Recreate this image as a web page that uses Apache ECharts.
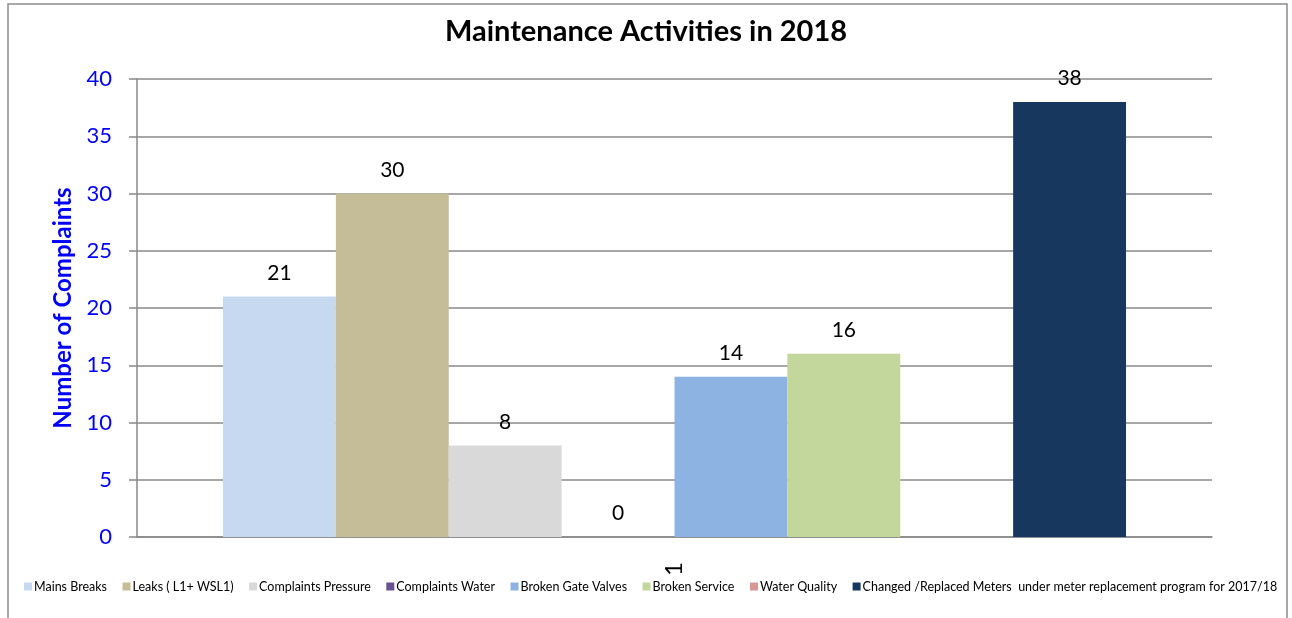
<!DOCTYPE html>
<html><head><meta charset="utf-8">
<script src="https://cdn.jsdelivr.net/npm/echarts@6/dist/echarts.min.js"></script>
<style>html,body{margin:0;padding:0;background:#fff}#c{width:1292px;height:618px}</style>
</head><body><div id="c"></div>
<script>
const categories = ['1'];
const seriesNames = ['Mains Breaks','Leaks ( L1+ WSL1)','Complaints Pressure','Complaints Water','Broken Gate Valves','Broken Service','Water Quality','Changed /Replaced Meters  under meter replacement program for 2017/18'];
const seriesValues = [21, 30, 8, 0, 14, 16, '-', 38];
const seriesColors = ['#C6D9F1','#C4BD97','#D9D9D9','#6A5191','#8DB3E2','#C3D69B','#D99694','#17375E'];
const yTicks = {min: 0, max: 40, interval: 5};
const FONT = 'Lato, "Open Sans", sans-serif';

const chart = echarts.init(document.getElementById('c'));
chart.setOption({
  animation: false,
  title: {text: 'Maintenance Activities in 2018', left: 'center', top: 12,
    textStyle: {fontFamily: FONT, fontSize: 29, fontWeight: 'bold', color: '#000'}},
  graphic: [{type: 'rect', shape: {x: 8, y: 4, width: 1279, height: 640},
    style: {fill: 'none', stroke: '#8c8c8c', lineWidth: 1.5}, silent: true}],
  legend: {top: 580, left: 24, width: 1266, padding: 0, itemWidth: 8, itemHeight: 8, itemGap: 15.5, icon: 'rect',
    textStyle: {fontFamily: FONT, fontSize: 12.5, color: '#000', padding: [0,0,0,-3]},
    data: seriesNames},
  grid: {left: 137, right: 80, top: 79, bottom: 81},
  xAxis: {type: 'category', data: categories,
    axisLine: {lineStyle: {color: '#888', width: 1.5}},
    axisTick: {length: 10, lineStyle: {color: '#888', width: 1.5}},
    axisLabel: {rotate: 90, fontSize: 24, color: '#000', fontFamily: FONT, margin: 25}},
  yAxis: {type: 'value', min: yTicks.min, max: yTicks.max, interval: yTicks.interval,
    name: 'Number of Complaints', nameLocation: 'middle', nameGap: 60,
    nameTextStyle: {fontFamily: FONT, fontSize: 24, fontWeight: 'bold', color: '#0000FF'},
    axisLine: {show: true, lineStyle: {color: '#888', width: 1.5}},
    axisTick: {show: true, length: 8, lineStyle: {color: '#888', width: 1.5}},
    splitLine: {lineStyle: {color: '#888', width: 1.5}},
    axisLabel: {fontSize: 22, color: '#0000FF', fontFamily: FONT, margin: 25}},
  series: seriesNames.map((n, i) => ({
    name: n, type: 'bar', data: [seriesValues[i]],
    barGap: '0%', barCategoryGap: '16%',
    itemStyle: {color: seriesColors[i]},
    label: {show: true, position: 'top', distance: 13, fontSize: 21, color: '#000', fontFamily: FONT}
  }))
});
</script></body></html>
